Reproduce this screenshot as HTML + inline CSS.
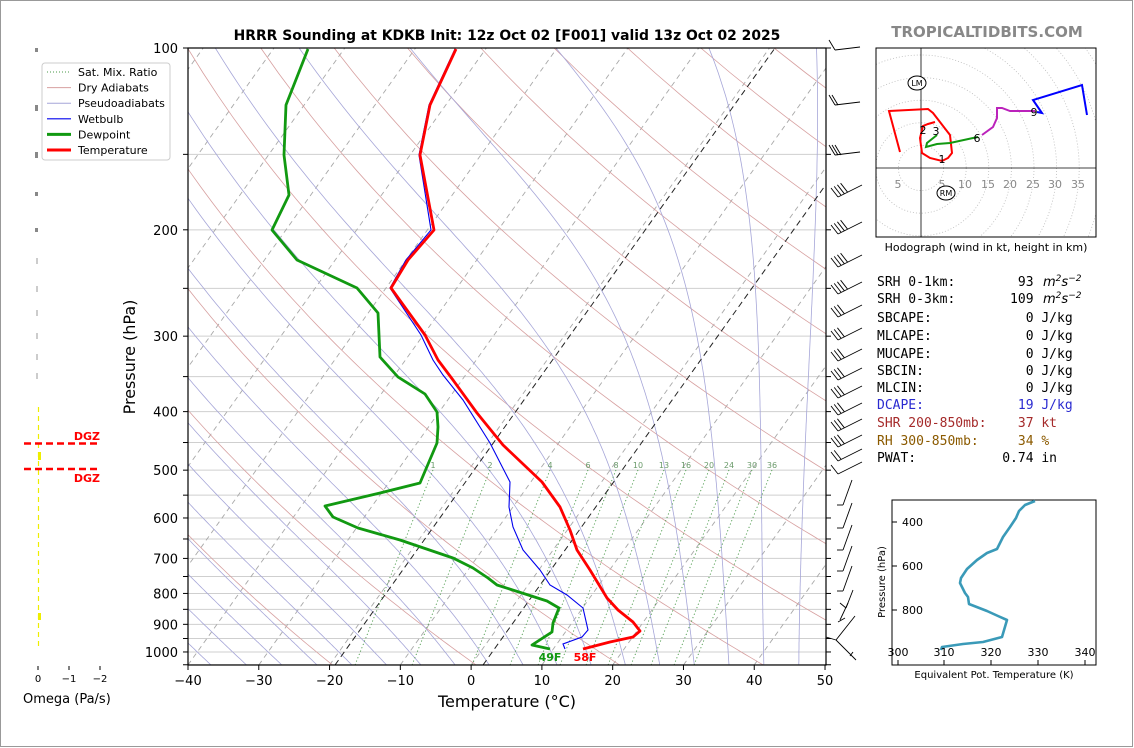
<!DOCTYPE html>
<html><head><meta charset="utf-8"><style>
html,body{margin:0;padding:0;background:#fff}
svg{display:block}
text{font-family:"DejaVu Sans","Liberation Sans",sans-serif}
.mono{font-family:"DejaVu Sans Mono","Liberation Mono",monospace;font-size:13px;white-space:pre}
</style></head><body>
<svg id="s" width="1134" height="748" xmlns="http://www.w3.org/2000/svg">
<defs><clipPath id="pc"><rect x="188" y="48" width="638" height="617"/></clipPath>
<clipPath id="hc"><rect x="876" y="48" width="220" height="189"/></clipPath></defs>
<rect x="0.5" y="0.5" width="1132" height="746" fill="#fff" stroke="#999" stroke-width="1"/>
<g id="bg" clip-path="url(#pc)"></g>
<g id="fg"></g>
</svg>
<script>
var NS="http://www.w3.org/2000/svg";
function el(par,tag,attrs,txt){var e=document.createElementNS(NS,tag);for(var k in attrs)e.setAttribute(k,attrs[k]);if(txt!==undefined)e.textContent=txt;par.appendChild(e);return e;}
var bg=document.getElementById('bg'),fg=document.getElementById('fg');
function Y(p){return 48+262.3*Math.log(p/100);}
function X(T,y){return 188+(T+40)*7.078+(665-y)*0.713;}
function pl(par,pts,attrs){var d=pts.map(function(p,i){return (i?'L':'M')+p[0].toFixed(1)+' '+p[1].toFixed(1);}).join(' ');attrs.d=d;attrs.fill=attrs.fill||'none';return el(par,'path',attrs);}
for(var p=150;p<=1050;p+=50){el(bg,'line',{x1:188,x2:826,y1:Y(p),y2:Y(p),stroke:'#cfcfcf','stroke-width':1});}
for(var T=-140;T<=60;T+=10){pl(bg,[[X(T,665),665],[X(T,48),48]],{stroke:'#a8a8a8','stroke-width':0.9,'stroke-dasharray':'5,4'});}
var pres=[];for(var pp=1050;pp>=100;pp-=10)pres.push(pp);
for(var th=230;th<=520;th+=20){var pts=pres.map(function(pp){var T=th*Math.pow(pp/1000,0.2857)-273.15;var y=Y(pp);return [X(T,y),y];});pl(bg,pts,{stroke:'#d7a0a0','stroke-width':0.8});}
function es(T){return 6.112*Math.exp(17.67*T/(T+243.5));}
for(var T0=-50;T0<=45;T0+=5){var T=T0,pts=[];for(var pp=1000;pp>=100;pp-=5){var y=Y(pp);pts.push([X(T,y),y]);var Tk=T+273.15,rs=0.622*es(T)/(pp-es(T));var dTdp=(287*Tk+2.5e6*rs)/(1004+2.5e6*2.5e6*rs*0.622/(287*Tk*Tk))/pp;T-=dTdp*5;if(T<-150)break;}
var T2=T0,ext=[];for(var pp=1000;pp<=1050;pp+=5){var y=Y(pp);ext.unshift([X(T2,y),y]);var Tk=T2+273.15,rs=0.622*es(T2)/(pp-es(T2));T2+=(287*Tk+2.5e6*rs)/(1004+2.5e6*2.5e6*rs*0.622/(287*Tk*Tk))/pp*5;}
pl(bg,ext.concat(pts),{stroke:'#a6a6d8','stroke-width':0.8});}
var mr=[[1,433],[2,490],[4,550],[6,588],[8,616],[10,638],[13,664],[16,686],[20,709],[24,729],[30,752],[36,772]];
mr.forEach(function(m){pl(bg,[[m[1],470],[m[1]-0.40*195,665]],{stroke:'#4a9a4a','stroke-width':0.9,'stroke-dasharray':'1.2,2.4'});
el(bg,'text',{x:m[1],y:468,'font-size':8,fill:'#6a9a6a','text-anchor':'middle'},m[0]);});
pl(bg,[[335,665],[775,48]],{stroke:'#222','stroke-width':1,'stroke-dasharray':'6,4'});
pl(bg,[[483,665],[832,176]],{stroke:'#222','stroke-width':1,'stroke-dasharray':'6,4'});
var dew=[[308,49],[286,105],[284,155],[289,195],[272,230],[297,260],[357,288],[378,313],[380,357],[398,377],[425,394],[437,412],[438,427],[437,443],[420,483],[380,493],[325,506],[333,517],[358,528],[400,540],[453,558],[473,568],[488,578],[497,585],[547,601],[559,608],[553,623],[552,632],[532,645],[550,649]];
var tmp=[[456,49],[430,105],[420,155],[434,230],[408,260],[391,288],[425,335],[438,360],[453,380],[477,413],[503,445],[542,482],[560,507],[570,530],[577,550],[590,570],[607,598],[618,610],[633,622],[640,631],[633,637],[610,642],[583,649]];
var wb=[[455,49],[429,105],[419,155],[431,230],[406,260],[390,288],[421,335],[433,360],[443,375],[463,400],[490,443],[510,482],[509,507],[513,527],[523,550],[540,570],[550,585],[567,595],[583,608],[588,630],[582,637],[563,644],[565,649]];
pl(bg,wb,{stroke:'#0000ee','stroke-width':1.1});
pl(bg,dew,{stroke:'#119911','stroke-width':2.8,'stroke-linejoin':'round'});
pl(bg,tmp,{stroke:'#ff0000','stroke-width':2.8,'stroke-linejoin':'round'});
el(fg,'text',{x:550,y:661,'font-size':11,'font-weight':'bold',fill:'#119911','text-anchor':'middle'},'49F');
el(fg,'text',{x:585,y:661,'font-size':11,'font-weight':'bold',fill:'#ff0000','text-anchor':'middle'},'58F');
el(fg,'rect',{x:188,y:48,width:638,height:617,fill:'none',stroke:'#000','stroke-width':1.2});
for(var p=100;p<=1050;p+=50){el(fg,'line',{x1:183,x2:188,y1:Y(p),y2:Y(p),stroke:'#000'});el(fg,'line',{x1:826,x2:831,y1:Y(p),y2:Y(p),stroke:'#000'});
if(p%100==0)el(fg,'text',{x:178,y:Y(p)+5,'font-size':13,'text-anchor':'end'},p);}
for(var T=-40;T<=50;T+=10){var x=188+(T+40)*7.078;el(fg,'line',{x1:x,x2:x,y1:665,y2:670,stroke:'#000'});el(fg,'text',{x:x,y:685,'font-size':13,'text-anchor':'middle'},(T<0?'\u2212':'')+Math.abs(T));}
el(fg,'text',{x:507,y:707,'font-size':16,'text-anchor':'middle'},'Temperature (\u00b0C)');
el(fg,'text',{x:135,y:357,'font-size':16,'text-anchor':'middle',transform:'rotate(-90 135 357)'},'Pressure (hPa)');
el(fg,'text',{x:507,y:40,'font-size':13.9,'font-weight':'bold','text-anchor':'middle'},'HRRR Sounding at KDKB Init: 12z Oct 02 [F001] valid 13z Oct 02 2025');
el(fg,'text',{x:987,y:37,'font-size':15,'font-weight':'bold',fill:'#888','text-anchor':'middle'},'TROPICALTIDBITS.COM');
el(fg,'rect',{x:42,y:63,width:128,height:97,rx:3,fill:'#fff',stroke:'#ccc'});
var lg=[['Sat. Mix. Ratio','#4a9a4a',1,'1,2'],['Dry Adiabats','#d7a0a0',1,''],['Pseudoadiabats','#a6a6d8',1,''],['Wetbulb','#0000ee',1.2,''],['Dewpoint','#119911',3,''],['Temperature','#ff0000',3,'']];
lg.forEach(function(l,i){var y=72+i*15.6;el(fg,'line',{x1:47,x2:71,y1:y,y2:y,stroke:l[1],'stroke-width':l[2],'stroke-dasharray':l[3]});el(fg,'text',{x:78,y:y+4,'font-size':11},l[0]);});
[50,107,154,194,230].forEach(function(y,i){el(fg,'rect',{x:35,y:y-2,width:3,height:i==1||i==2?6:4,fill:'#888'});});
[261,289,313,336,357,376].forEach(function(y){el(fg,'line',{x1:37,x2:37,y1:y-3,y2:y+3,stroke:'#999'});});
el(fg,'line',{x1:38.5,x2:38.5,y1:407,y2:650,stroke:'#eeee00','stroke-width':1.2,'stroke-dasharray':'5,4'});
el(fg,'rect',{x:38,y:452,width:3,height:8,fill:'#eeee00'});el(fg,'rect',{x:38,y:613,width:3,height:7,fill:'#eeee00'});
el(fg,'line',{x1:24,x2:99,y1:443.5,y2:443.5,stroke:'#ff0000','stroke-width':2.5,'stroke-dasharray':'7,4'});
el(fg,'line',{x1:24,x2:99,y1:469,y2:469,stroke:'#ff0000','stroke-width':2.5,'stroke-dasharray':'7,4'});
el(fg,'text',{x:100,y:440,'font-size':11,'font-weight':'bold',fill:'#ff0000','text-anchor':'end'},'DGZ');
el(fg,'text',{x:100,y:482,'font-size':11,'font-weight':'bold',fill:'#ff0000','text-anchor':'end'},'DGZ');
[[38,'0'],[69,'\u22121'],[100,'\u22122']].forEach(function(t){el(fg,'line',{x1:t[0],x2:t[0],y1:666,y2:670,stroke:'#000'});el(fg,'text',{x:t[0],y:682,'font-size':10,'text-anchor':'middle'},t[1]);});
el(fg,'text',{x:23,y:703,'font-size':13},'Omega (Pa/s)');
function ln(x1,y1,x2,y2){el(fg,'line',{x1:x1,y1:y1,x2:x2,y2:y2,stroke:'#000','stroke-width':0.9});}
function barbA(y,n){ln(835,y+2,860,y-1);for(var i=0;i<n;i++)ln(835+i*3,y+2,829+i*3,y-8);}
barbA(48,1);barbA(103,2);barbA(153,3);
function barbB(y,n){ln(838,y+4,862,y-8);for(var i=0;i<n;i++){ln(838+i*3.2,y+4-i*1.6,831+i*3.2,y-5-i*1.6);}}
[[193,4],[230,4],[263,4],[290,4],[313,3],[336,3],[357,3],[376,3],[394,3],[411,3],[427,3],[443,3],[457,2],[470,1]].forEach(function(b){barbB(b[0],b[1]);});
function barbC(y){ln(843,y+3,852,y-22);ln(843,y+3,837,y+3);}
[502,525,547,568,588].forEach(barbC);
ln(846,608,853,590);ln(846,608,840,603);ln(840,620,848,603);ln(838,622,845,618);
ln(826,637,836,640);ln(836,640,855,616);ln(836,640,856,660);ln(850,656,853,652);
var hg=el(fg,'g',{'clip-path':'url(#hc)'});
for(var r=1;r<=12;r++)el(hg,'circle',{cx:921,cy:168,r:r*22.6,fill:'none',stroke:'#bbb','stroke-width':0.8,'stroke-dasharray':'1,2'});
el(hg,'line',{x1:921,x2:921,y1:48,y2:237,stroke:'#000','stroke-width':0.8});
el(hg,'line',{x1:876,x2:1096,y1:168,y2:168,stroke:'#000','stroke-width':0.8});
[[898,'5'],[942,'5'],[965,'10'],[988,'15'],[1010,'20'],[1033,'25'],[1055,'30'],[1078,'35']].forEach(function(t){el(hg,'text',{x:t[0],y:188,'font-size':11,fill:'#888','text-anchor':'middle'},t[1]);});
pl(hg,[[900,152],[889,111],[928,109],[933,113],[950,135],[952,153],[948,158],[942,161],[930,158],[922,153],[920,138],[923,126],[928,124],[935,122]],{stroke:'#ff0000','stroke-width':2});
pl(hg,[[937,135],[927,143],[926,147],[937,144],[950,143],[973,138],[978,137]],{stroke:'#119911','stroke-width':2});
pl(hg,[[982,135],[993,127],[997,118],[997,108],[1002,108],[1010,111],[1030,111],[1035,111]],{stroke:'#bb22bb','stroke-width':2});
pl(hg,[[1037,112],[1042,113],[1033,100],[1082,85],[1087,115]],{stroke:'#0000ff','stroke-width':2});
[[942,163,'1'],[923,134,'2'],[936,135,'3'],[977,142,'6'],[1034,116,'9']].forEach(function(t){el(hg,'text',{x:t[0],y:t[1],'font-size':11,'text-anchor':'middle'},t[2]);});
el(hg,'ellipse',{cx:917,cy:83,rx:9,ry:7,fill:'#fff',stroke:'#000'});el(hg,'text',{x:917,y:86,'font-size':8,'text-anchor':'middle'},'LM');
el(hg,'ellipse',{cx:946,cy:193,rx:9,ry:7,fill:'#fff',stroke:'#000'});el(hg,'text',{x:946,y:196,'font-size':8,'text-anchor':'middle'},'RM');
el(fg,'rect',{x:876,y:48,width:220,height:189,fill:'none',stroke:'#000','stroke-width':1});
el(fg,'text',{x:986,y:251,'font-size':11,'text-anchor':'middle'},'Hodograph (wind in kt, height in km)');
var tl=[[286,'SRH 0-1km:        93','#000',1],[303,'SRH 0-3km:       109','#000',1],[322,'SBCAPE:            0 J/kg','#000'],[340,'MLCAPE:            0 J/kg','#000'],[358,'MUCAPE:            0 J/kg','#000'],[375,'SBCIN:             0 J/kg','#000'],[392,'MLCIN:             0 J/kg','#000'],[409,'DCAPE:            19 J/kg','#2a2ad0'],[427,'SHR 200-850mb:    37 kt','#a52a2a'],[445,'RH 300-850mb:     34 %','#8b5a00'],[462,'PWAT:           0.74 in','#000']];
tl.forEach(function(t){var e=el(fg,'text',{x:877,y:t[0],'class':'mono',fill:t[2]},t[1]);if(t[3]){var u=el(fg,'text',{x:1043,y:t[0],'font-size':13,'font-style':'italic'});u.textContent='m';el(u,'tspan',{'font-size':9,dy:-5},'2');el(u,'tspan',{dy:5},'s');el(u,'tspan',{'font-size':9,dy:-5},'\u22122');}});
el(fg,'rect',{x:892,y:500,width:204,height:165,fill:'none',stroke:'#000','stroke-width':1});
pl(fg,[[1035,501],[1025,505],[1019,511],[1016,518],[1010,527],[1003,537],[997,549],[987,553],[977,560],[967,569],[961,578],[960,583],[965,593],[968,597],[969,604],[987,611],[998,616],[1007,620],[1002,637],[983,642],[963,644],[942,647],[941,650]],{stroke:'#3a9ab8','stroke-width':2.6,'stroke-linejoin':'round'});
[[898,'300'],[944,'310'],[991,'320'],[1038,'330'],[1085,'340']].forEach(function(t){el(fg,'line',{x1:t[0],x2:t[0],y1:665,y2:660,stroke:'#000'});el(fg,'text',{x:t[0],y:656,'font-size':11,'text-anchor':'middle'},t[1]);});
[[522,'400'],[566,'600'],[610,'800']].forEach(function(t){el(fg,'line',{x1:892,x2:897,y1:t[0],y2:t[0],stroke:'#000'});el(fg,'text',{x:923,y:t[0]+4,'font-size':11,'text-anchor':'end'},t[1]);});
el(fg,'text',{x:885,y:582,'font-size':10,'text-anchor':'middle',transform:'rotate(-90 885 582)'},'Pressure (hPa)');
el(fg,'text',{x:994,y:678,'font-size':10,'text-anchor':'middle'},'Equivalent Pot. Temperature (K)');
</script>
</body></html>
